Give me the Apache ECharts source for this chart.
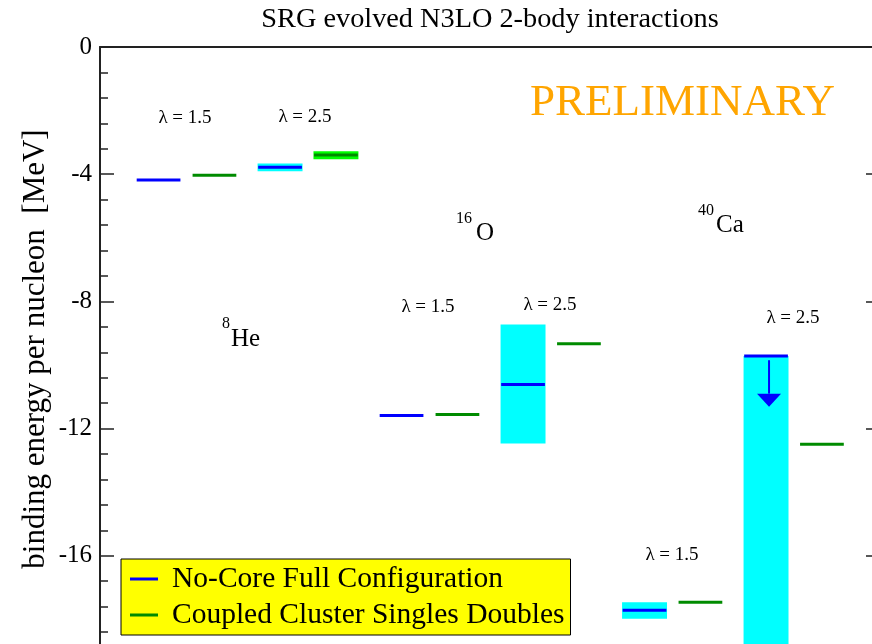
<!DOCTYPE html>
<html>
<head>
<meta charset="utf-8">
<script src="https://cdn.jsdelivr.net/npm/echarts@6/dist/echarts.min.js"></script>
<style>
html,body{margin:0;padding:0;background:#fff;}
#chart{width:872px;height:644px;}
</style>
</head>
<body>
<div id="chart"></div>
<script>
// ---- data ----
const nuclei = ["8He", "8He", "16O", "16O", "40Ca", "40Ca"];
const lambdas = ["λ = 1.5", "λ = 2.5", "λ = 1.5", "λ = 2.5", "λ = 1.5", "λ = 2.5"];
// No-Core Full Configuration (MeV per nucleon)
const ncfcValues = [-4.18, -3.78, -11.59, -10.61, -17.71, -9.72];
// uncertainty bands of NCFC (top, bottom); null = none
const ncfcBandTop = [null, -3.66, null, -8.73, -17.46, -9.72];
const ncfcBandBottom = [null, -3.91, null, -12.47, -17.98, -20.0];
// Coupled Cluster Singles Doubles
const ccsdValues = [-4.03, -3.40, -11.56, -9.33, -17.46, -12.49];
const ccsdBandTop = [null, -3.28, null, null, null, null];
const ccsdBandBottom = [null, -3.53, null, null, null, null];
// extrapolation arrow (from, to) for 40Ca lambda=2.5 NCFC
const arrowFrom = -9.85;
const arrowTo = -11.31;
const arrowIndex = 5;
const yTicks = [0, -4, -8, -12, -16];

// ---- layout helpers ----
const OFF = 0.23, HALF = 0.18;
const xNcfc = (i) => i + 1 - OFF;
const xCcsd = (i) => i + 1 + OFF;

const ncfcData = ncfcValues.map((v, i) => [xNcfc(i), v]);
const ccsdData = ccsdValues.map((v, i) => [xCcsd(i), v]);
const ncfcBands = [];
ncfcBandTop.forEach((t, i) => { if (t !== null) ncfcBands.push([xNcfc(i), t, ncfcBandBottom[i]]); });
const ccsdBands = [];
ccsdBandTop.forEach((t, i) => { if (t !== null) ccsdBands.push([xCcsd(i), t, ccsdBandBottom[i]]); });
const arrowData = [[xNcfc(arrowIndex), arrowFrom, arrowTo]];

const SERIF = '"Liberation Serif", "Times New Roman", serif';

function levelRenderer(color) {
  return function (params, api) {
    const x = api.value(0), y = api.value(1);
    const p1 = api.coord([x - HALF, y]);
    const p2 = api.coord([x + HALF, y]);
    return { type: 'line', shape: { x1: p1[0], y1: p1[1], x2: p2[0], y2: p2[1] },
      style: { stroke: color, lineWidth: 3 } };
  };
}
function bandRenderer(color) {
  return function (params, api) {
    const x = api.value(0);
    const p1 = api.coord([x - HALF - 0.005, api.value(1)]);
    const p2 = api.coord([x + HALF + 0.005, api.value(2)]);
    return { type: 'rect', shape: { x: p1[0], y: p1[1], width: p2[0] - p1[0], height: p2[1] - p1[1] },
      style: { fill: color } };
  };
}
function arrowRenderer(params, api) {
  const x = api.value(0);
  const a = api.coord([x, api.value(1)]);
  const b = api.coord([x, api.value(2)]);
  const headH = 13, headW = 12;
  const cx = a[0] + 3;
  return { type: 'group', children: [
    { type: 'line', shape: { x1: cx, y1: a[1], x2: cx, y2: b[1] - headH }, style: { stroke: '#0000ff', lineWidth: 2 } },
    { type: 'polygon', shape: { points: [[cx - headW, b[1] - headH], [cx + headW, b[1] - headH], [cx, b[1]]] }, style: { fill: '#0000ff' } }
  ] };
}

function txt(x, y, text, size, opts) {
  return Object.assign({ type: 'text', x: x, y: y, z: 100,
    style: Object.assign({ text: text, fontFamily: SERIF, fontSize: size, fill: '#000',
      align: 'center', verticalAlign: 'middle' }, opts || {}) });
}

const chart = echarts.init(document.getElementById('chart'));
chart.setOption({
  animation: false,
  backgroundColor: '#fff',
  grid: { left: 100, top: 47, width: 780, height: 636, outerBoundsMode: 'none', containLabel: false },
  xAxis: [{
    type: 'value', min: 0.288, max: 6.708, position: 'top',
    axisLine: { show: true, lineStyle: { color: '#222', width: 2 } },
    axisTick: { show: false }, axisLabel: { show: false }, splitLine: { show: false }
  }],
  yAxis: [{
    type: 'value', min: -20, max: 0, interval: 4, position: 'left',
    axisLine: { show: true, lineStyle: { color: '#222', width: 2 } },
    axisTick: { show: true, inside: true, length: 14, lineStyle: { color: '#222', width: 1.5 } },
    minorTick: { show: true, splitNumber: 5, length: 8, lineStyle: { color: '#222', width: 1.5 } },
    axisLabel: { margin: 8, fontFamily: SERIF, fontSize: 25, color: '#000',
      formatter: (v) => (yTicks.indexOf(v) >= 0 ? String(v) : '') },
    splitLine: { show: false }
  }, {
    type: 'value', min: -20, max: 0, interval: 4, position: 'right',
    axisLine: { show: true, lineStyle: { color: '#222', width: 2 } },
    axisTick: { show: true, inside: true, length: 14, lineStyle: { color: '#222', width: 1.5 } },
    minorTick: { show: true, splitNumber: 5, length: 8, lineStyle: { color: '#222', width: 1.5 } },
    axisLabel: { show: false }, splitLine: { show: false }
  }],
  legend: {
    orient: 'vertical', left: 121, top: 559,
    backgroundColor: '#ffff00', borderColor: '#000', borderWidth: 1, borderRadius: 0,
    padding: [5, 6, 5, 9], itemGap: 6, itemWidth: 28, itemHeight: 3,
    icon: 'rect',
    textStyle: { fontFamily: SERIF, fontSize: 29.5, lineHeight: 28, color: '#000', padding: [0, 0, 0, 9] },
    data: ['No-Core Full Configuration', 'Coupled Cluster Singles Doubles']
  },
  series: [
    { type: 'custom', name: 'ncfc band', renderItem: bandRenderer('#00ffff'), data: ncfcBands, z: 1, silent: true },
    { type: 'custom', name: 'ccsd band', renderItem: bandRenderer('#00ff00'), data: ccsdBands, z: 1, silent: true },
    { type: 'custom', name: 'No-Core Full Configuration', color: '#0000ff', itemStyle: { color: '#0000ff' },
      renderItem: levelRenderer('#0000ff'), data: ncfcData, z: 3 },
    { type: 'custom', name: 'Coupled Cluster Singles Doubles', color: '#008b00', itemStyle: { color: '#008b00' },
      renderItem: levelRenderer('#008b00'), data: ccsdData, z: 3 },
    { type: 'custom', name: 'arrow', renderItem: arrowRenderer, data: arrowData, z: 4, silent: true }
  ],
  graphic: [
    txt(490, 20, 'SRG evolved N3LO 2-body interactions', 28.3),
    txt(530, 103, 'PRELIMINARY', 45, { align: 'left', fill: '#ffa500' }),
    { type: 'text', x: 36, y: 349, rotation: Math.PI / 2, z: 100,
      style: { text: 'binding energy per nucleon  [MeV]', fontFamily: SERIF, fontSize: 31, fill: '#000',
        align: 'center', verticalAlign: 'middle' } },
    txt(185, 118, lambdas[0], 19),
    txt(305, 117, lambdas[1], 19),
    txt(428, 307, lambdas[2], 19),
    txt(550, 305, lambdas[3], 19),
    txt(672, 555, lambdas[4], 19),
    txt(793, 318, lambdas[5], 19),
    txt(222, 324, '8', 16, { align: 'left' }),
    txt(231, 339, 'He', 25, { align: 'left' }),
    txt(456, 219, '16', 16, { align: 'left' }),
    txt(476, 233, 'O', 25, { align: 'left' }),
    txt(698, 211, '40', 16, { align: 'left' }),
    txt(716, 225, 'Ca', 25, { align: 'left' })
  ]
});
</script>
</body>
</html>
